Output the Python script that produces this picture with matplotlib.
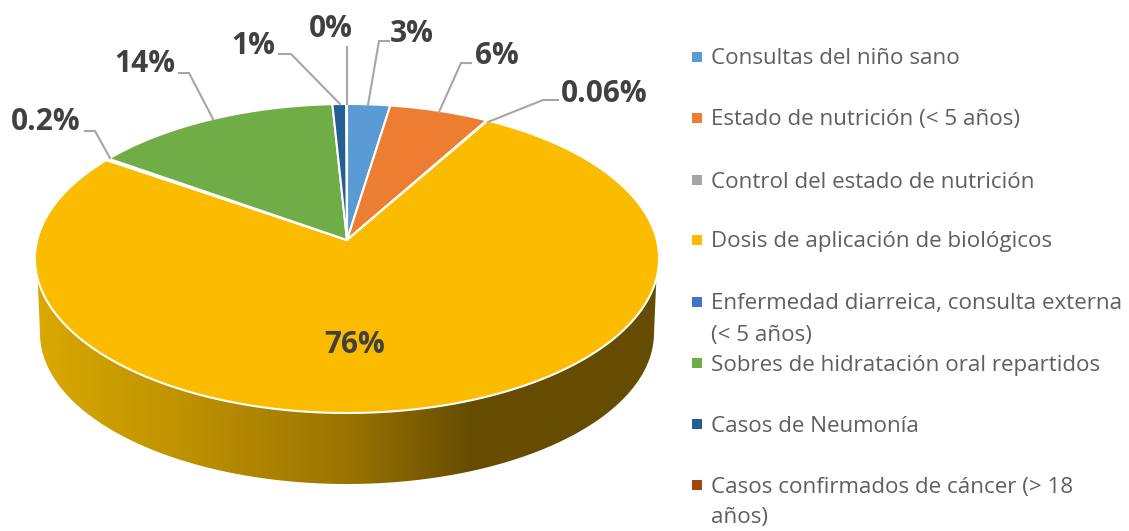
import numpy as np
import matplotlib
matplotlib.use("Agg")
import matplotlib.pyplot as plt
from matplotlib.colors import LinearSegmentedColormap
from matplotlib.patches import Polygon, Rectangle

# Data
categories = [
    "Consultas del niño sano",
    "Estado de nutrición (< 5 años)",
    "Control del estado de nutrición",
    "Dosis de aplicación de biológicos",
    "Enfermedad diarreica, consulta externa\n(< 5 años)",
    "Sobres de hidratación oral repartidos",
    "Casos de Neumonía",
    "Casos confirmados de cáncer (> 18\naños)",
]
values = [2.5, 5.8, 0.06, 76.1, 0.2, 14.5, 0.8, 0.04]
value_labels = ["3%", "6%", "0.06%", "76%", "0.2%", "14%", "1%", "0%"]
colors = ["#5B9BD5", "#ED7D31", "#A5A5A5", "#FBBC00", "#4472C4", "#70AD47", "#255E91", "#9E480E"]

# Pie geometry, in image pixels
CX, CY = 347, 240
A, B, K = 309.8, 152.3, 0.1197
WALL_TOP, WALL_BOTTOM = 278, 333

# Label placement: text centre, then the elbow and tip of the leader line
label_pos = [(412, 34), (497, 56), (604, 94), (355, 345), (46, 122), (145, 64), (253, 46), (331, 29)]
leaders = [
    [(389, 41), (379, 41), (368, 105)],
    [(471, 63), (461, 63), (439, 112)],
    [(558, 100), (543, 100), (488, 122)],
    None,
    [(85, 131), (95, 131), (110, 158)],
    [(179, 73), (189, 73), (213, 119)],
    [(279, 54), (291, 54), (340, 104)],
    [(347, 47), (347, 47), (347, 104)],
]
legend_y = [57, 118, 180, 240, 302, 363, 424, 485]
LEGEND_LINE = 31


def project(frac):
    # share of the circle, clockwise from the top, seen in perspective
    t = 2 * np.pi * np.asarray(frac)
    u, v = np.sin(t), np.cos(t)
    w = 1 + K * v
    return CX + A * u / w, CY - B * v / w


plt.rcParams["font.family"] = ["Open Sans", "DejaVu Sans"]
fig = plt.figure(figsize=(11.29, 5.31), dpi=100)
ax = fig.add_axes([0, 0, 1, 1])

# Side wall
low = np.linspace(0, np.pi, 200)
wall_bx = 347 + 307 * np.cos(low)
wall_by = WALL_BOTTOM + 151 * np.sin(low)
wall_poly = [(656.4, WALL_TOP)] + list(zip(wall_bx, wall_by)) + [(37.6, WALL_TOP)]
wall_cmap = LinearSegmentedColormap.from_list(
    "wall", [(0.0, "#D9A900"), (0.25, "#BD9000"), (0.5, "#9A7400"), (0.7, "#664C00"), (1.0, "#664C00")]
)
img = ax.imshow(np.linspace(0, 1, 256)[None, :], extent=(36, 659, 490, 270), aspect="auto", cmap=wall_cmap)
clip = Polygon(wall_poly, transform=ax.transData, facecolor="none", edgecolor="none")
ax.add_patch(clip)
img.set_clip_path(clip)

# Top face
edges = np.concatenate([[0], np.cumsum(values)]) / sum(values)
for i, col in enumerate(colors):
    n = max(int((edges[i + 1] - edges[i]) * 720), 2)
    x, y = project(np.linspace(edges[i], edges[i + 1], n))
    ax.fill(np.r_[CX, x], np.r_[CY, y], facecolor=col, edgecolor="white", linewidth=1.5, joinstyle="round", zorder=3)

# Data labels and leader lines
for lab, pos, lead in zip(value_labels, label_pos, leaders):
    ax.text(pos[0], pos[1], lab, ha="center", va="center", fontsize=21.5, fontweight="bold", color="#404040", zorder=5)
    if lead:
        ax.plot(*zip(*lead), color="#A6A6A6", linewidth=1.5, zorder=4)

# Legend
for name, col, y in zip(categories, colors, legend_y):
    ax.add_patch(Rectangle((692, y - 5), 10, 10, facecolor=col, edgecolor="none"))
    for j, line in enumerate(name.split("\n")):
        ax.text(711, y + 2 + j * LEGEND_LINE, line, ha="left", va="center", fontsize=16.1, color="#5F5F5F")

ax.set_xlim(0, 1129)
ax.set_ylim(531, 0)
ax.axis("off")
fig.savefig("out.png", dpi=100)
